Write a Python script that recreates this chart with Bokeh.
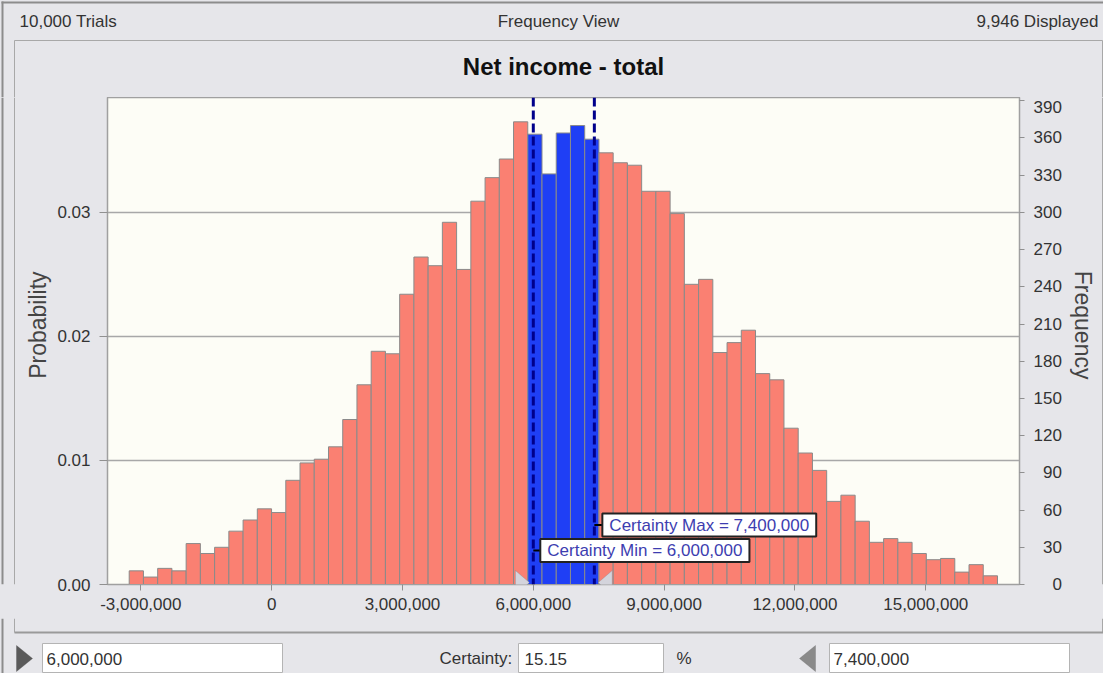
import numpy as np
from bokeh.plotting import figure
from bokeh.layouts import column, row
from bokeh.models import (Range1d, LinearAxis, FixedTicker, NumeralTickFormatter, CustomJSTickFormatter,
                          Span, Label, BoxAnnotation, PolyAnnotation, ColumnDataSource)
from bokeh.embed import file_html
from bokeh.resources import INLINE

# ---------------- data ----------------
trials = 10000
displayed = 9946
bin_start = -3266000
bin_width = 326400
frequency = [11, 6, 13, 11, 33, 25, 30, 43, 52, 61, 58, 84, 98, 101, 111, 133, 161, 188, 186, 234, 264, 257,
             292, 254, 309, 328, 343, 373, 363, 331, 364, 370, 359, 348, 340, 338, 317, 317, 299, 242, 246,
             187, 195, 205, 170, 165, 126, 106, 92, 67, 72, 51, 34, 37, 34, 25, 20, 21, 10, 16, 7]
cert_min = 6000000
cert_max = 7400000
certainty = 15.15
prob_ticks = [0.0, 0.01, 0.02, 0.03]
freq_ticks = [0, 30, 60, 90, 120, 150, 180, 210, 240, 270, 300, 330, 360, 390]
x_ticks = [-3000000, 0, 3000000, 6000000, 9000000, 12000000, 15000000]
title_text = "Net income - total"
view_name = "Frequency View"
y_left_label = "Probability"
y_right_label = "Frequency"

# ---------------- styles (page-pixel layout) ----------------
FONT = "Liberation Sans"
BG = "#e6e6ea"
PLOT_BG = "#fdfdf6"
SALMON = "#fa8072"
BLUE = "#1f3ff5"
TXT = "#333333"
EDGE = "#8c8c8c"
PANEL = "#a8a8a8"
PAGE_L, PAGE_T, PAGE_R, PAGE_B = 8, 8, 1111, 681
FRAME_L, FRAME_T, FRAME_R, FRAME_B = 115, 105, 1027, 592
MID_L, MID_R, MID_B = 62, 1077, 626


def deco_fig(x0, x1, y0, y1):
    f = figure(width=x1 - x0, height=y1 - y0, output_backend="svg", toolbar_location=None,
               x_range=Range1d(x0, x1), y_range=Range1d(y1, y0), x_axis_type=None, y_axis_type=None,
               min_border=0, title=None, background_fill_color=BG, border_fill_color=BG,
               outline_line_color=None)
    return f


def box(f, l, r, t, b, fill=None, line=None, lw=1):
    f.add_layout(BoxAnnotation(left=l, right=r, top=t, bottom=b,
                               fill_color=fill if fill else "white", fill_alpha=1 if fill else 0,
                               line_color=line, line_width=lw, line_alpha=1 if line else 0))


def txt(f, x, y, t, align="left", size="17px", color=TXT, style="normal", angle=0.0):
    f.add_layout(Label(x=x, y=y, text=t, text_font=FONT, text_font_size=size, text_color=color,
                       text_align=align, text_baseline="middle", text_font_style=style, angle=angle))


def tri(f, xs, ys, fill, line):
    f.add_layout(PolyAnnotation(xs=xs, ys=ys, fill_color=fill, fill_alpha=1, line_color=line, line_width=1))


# ---------------- header ----------------
hdr = deco_fig(PAGE_L, PAGE_R, PAGE_T, FRAME_T)
box(hdr, 9, PAGE_R, 9, 11, fill=EDGE)              # window top edge
box(hdr, 9, 11, 9, FRAME_T, fill=EDGE)             # window left edge
box(hdr, 22, 1110, 47.5, 48.5, fill=PANEL)         # panel top
box(hdr, 21.5, 22.5, 48, FRAME_T, fill=PANEL)      # panel left
box(hdr, 1109.5, 1110.5, 48, FRAME_T, fill=PANEL)  # panel right
txt(hdr, 27, 29, f"{trials:,} Trials")
txt(hdr, 566, 29, view_name, align="center")
txt(hdr, 1106, 29, f"{displayed:,} Displayed", align="right")
txt(hdr, (FRAME_L + FRAME_R) / 2, 74, title_text, align="center", size="24px", color="#111111", style="bold")

# ---------------- side strips with axis titles ----------------
mid_y = (FRAME_T + FRAME_B) / 2
lft = deco_fig(PAGE_L, MID_L, FRAME_T, MID_B)
box(lft, 9, 11, FRAME_T, MID_B, fill=EDGE)
box(lft, 21.5, 22.5, FRAME_T, MID_B, fill=PANEL)
txt(lft, 45, mid_y, y_left_label, align="center", size="23px", color="#444444", angle=np.pi / 2)

rgt = deco_fig(MID_R, PAGE_R, FRAME_T, MID_B)
box(rgt, 1109.5, 1110.5, FRAME_T, MID_B, fill=PANEL)
txt(rgt, 1090, mid_y, y_right_label, align="center", size="23px", color="#444444", angle=-np.pi / 2)

# ---------------- main chart ----------------
freq_top = 392.6
edges = bin_start + bin_width * np.arange(len(frequency) + 1)
left = edges[:-1]
right = edges[1:]
in_range = (right > cert_min) & (left < cert_max)
colors = [BLUE if f else SALMON for f in in_range]
src = ColumnDataSource(dict(left=left, right=right, top=frequency, color=colors))

p = figure(width=MID_R - MID_L, height=MID_B - FRAME_T, output_backend="svg", toolbar_location=None,
           title=None, x_range=Range1d(-3764000, 17149000), y_range=Range1d(0, freq_top / trials),
           min_border_left=FRAME_L - MID_L, min_border_right=MID_R - FRAME_R,
           min_border_top=0, min_border_bottom=MID_B - FRAME_B,
           background_fill_color=PLOT_BG, border_fill_color=BG)
p.extra_y_ranges = {"freq": Range1d(0, freq_top)}

p.quad(left="left", right="right", bottom=0, top="top", source=src, y_range_name="freq",
       fill_color="color", line_color="#8a8a8a", line_width=1)

p.outline_line_color = "#a0a0a0"
p.outline_line_width = 1.5

for ax in [p.xaxis[0], p.yaxis[0]]:
    ax.major_label_text_font = FONT
    ax.major_label_text_font_size = "17px"
    ax.major_label_text_color = TXT
    ax.axis_line_color = "#a0a0a0"
    ax.major_tick_line_color = "#909090"
    ax.major_tick_in = 0
    ax.minor_tick_line_color = None

p.xaxis.ticker = FixedTicker(ticks=x_ticks)
p.xaxis.formatter = NumeralTickFormatter(format="0,0")
p.xaxis.major_tick_out = 6
p.xaxis.major_label_standoff = 7

p.yaxis.ticker = FixedTicker(ticks=prob_ticks)
p.yaxis.formatter = NumeralTickFormatter(format="0.00")
p.yaxis.major_tick_out = 8
p.yaxis.major_label_standoff = 9

ry = LinearAxis(y_range_name="freq", ticker=FixedTicker(ticks=freq_ticks),
                formatter=CustomJSTickFormatter(code="return String(tick).padStart(3, '\\u2007')"))
ry.major_label_text_font = FONT
ry.major_label_text_font_size = "17px"
ry.major_label_text_color = TXT
ry.major_label_standoff = 9
ry.axis_line_color = "#a0a0a0"
ry.major_tick_line_color = "#909090"
ry.major_tick_in = 0
ry.major_tick_out = 5
ry.minor_tick_line_color = None
p.add_layout(ry, "right")

p.xgrid.visible = False
p.ygrid.ticker = FixedTicker(ticks=prob_ticks)
p.ygrid.grid_line_color = "#a8a8a8"
p.ygrid.grid_line_width = 1.5


def sy(py):
    return FRAME_B - py


def sx(px):
    return px - FRAME_L


for v in (cert_min, cert_max):
    p.add_layout(Span(location=v, dimension="height", line_color="#00008b",
                      line_dash="9 4", line_width=3))

p.add_layout(BoxAnnotation(left=cert_max, left_units="data", right=sx(610), right_units="screen",
                           top=sy(531.5), top_units="screen", bottom=sy(533.5), bottom_units="screen",
                           fill_color="black", fill_alpha=1, line_color=None))
p.add_layout(BoxAnnotation(left=cert_min, left_units="data", right=sx(548), right_units="screen",
                           top=sy(557), top_units="screen", bottom=sy(559), bottom_units="screen",
                           fill_color="black", fill_alpha=1, line_color=None))
for v, name, yy, off in ((cert_max, "Max", 532.5, 8), (cert_min, "Min", 558, 7)):
    p.add_layout(Label(x=v, y=sy(yy), y_units="screen", x_offset=off,
                       text=f"Certainty {name} = {v:,}", text_font=FONT, text_font_size="17px",
                       text_color="#3d3db0", text_baseline="middle", text_align="left",
                       background_fill_color="white", background_fill_alpha=1,
                       border_line_color="#222222", border_line_width=2, padding=(7, 2)))

p.add_layout(PolyAnnotation(xs=[cert_min - 410000, cert_min - 410000, cert_min - 90000],
                            ys=[sy(578), sy(603), sy(590)], xs_units="data", ys_units="screen",
                            fill_color="#d4d4dc", fill_alpha=1, line_color="#7a7a88", line_width=1))
p.add_layout(PolyAnnotation(xs=[cert_max + 410000, cert_max + 410000, cert_max + 90000],
                            ys=[sy(578), sy(603), sy(590)], xs_units="data", ys_units="screen",
                            fill_color="#d4d4dc", fill_alpha=1, line_color="#7a7a88", line_width=1))

# ---------------- bottom controls ----------------
bot = deco_fig(PAGE_L, PAGE_R, MID_B, PAGE_B)
box(bot, 9, 11, MID_B, PAGE_B, fill=EDGE)
box(bot, 21.5, 22.5, MID_B, 640, fill=PANEL)
box(bot, 1109.5, 1110.5, MID_B, 640, fill=PANEL)
box(bot, 22, 1110.5, 639, 641, fill="#9a9a9a")
for l, r in ((50, 290), (526, 671), (837, 1077)):
    box(bot, l, r, 651, 680, fill="white", line="#b4b4b4")
tri(bot, [24, 24, 40], [653, 679, 666], "#5a5a5a", "#444444")
tri(bot, [823, 823, 807], [653, 679, 666], "#8a8a8a", "#666666")
txt(bot, 54, 666, f"{cert_min:,}")
txt(bot, 447, 666, "Certainty:")
txt(bot, 532, 666, f"{certainty:.2f}")
txt(bot, 684, 666, "%")
txt(bot, 841, 666, f"{cert_max:,}")

bg = {"background-color": BG}
layout = column(hdr, row(lft, p, rgt, styles=bg), bot, styles=bg)
open("out.html", "w").write(file_html(layout, INLINE))
